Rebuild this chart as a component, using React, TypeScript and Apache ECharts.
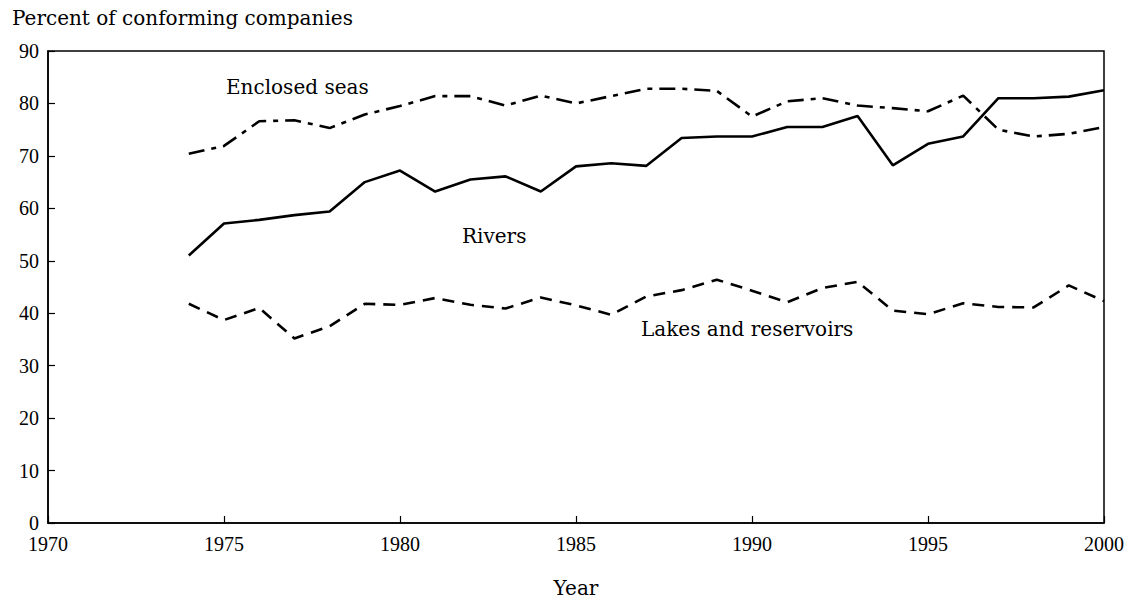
import React, { useEffect, useRef } from "react";
import * as echarts from "echarts";

const years = [1974, 1975, 1976, 1977, 1978, 1979, 1980, 1981, 1982, 1983, 1984, 1985, 1986, 1987, 1988, 1989, 1990, 1991, 1992, 1993, 1994, 1995, 1996, 1997, 1998, 1999, 2000];
const rivers = [51.0, 57.1, 57.8, 58.7, 59.4, 65.0, 67.2, 63.2, 65.5, 66.1, 63.2, 68.0, 68.6, 68.1, 73.4, 73.7, 73.7, 75.5, 75.5, 77.6, 68.2, 72.3, 73.7, 81.0, 81.0, 81.3, 82.5];
const enclosedSeas = [70.4, 71.9, 76.6, 76.8, 75.3, 77.9, 79.5, 81.4, 81.4, 79.6, 81.5, 80.0, 81.4, 82.8, 82.8, 82.4, 77.5, 80.4, 81.0, 79.6, 79.1, 78.5, 81.5, 75.0, 73.7, 74.2, 75.5];
const lakes = [41.8, 38.7, 41.0, 35.2, 37.5, 41.8, 41.6, 42.9, 41.6, 40.9, 43.0, 41.5, 39.7, 43.2, 44.4, 46.4, 44.3, 42.1, 44.8, 46.0, 40.5, 39.8, 41.9, 41.2, 41.1, 45.3, 42.3];

const titleText = "Percent of conforming companies";
const xName = "Year";
const seriesNames = ["Rivers", "Enclosed seas", "Lakes and reservoirs"];

const FONT = "'Liberation Serif', serif";
const WORD_FONT = "'DejaVu Serif', serif";

export default function App() {
  const ref = useRef<HTMLDivElement>(null);
  useEffect(() => {
    if (!ref.current) return;
    const chart = echarts.init(ref.current, null, { renderer: "svg" });
    const pair = (arr: number[]) => years.map((y, i) => [y, arr[i]]);
    chart.setOption({
      animation: false,
      backgroundColor: "#fff",
      textStyle: { fontFamily: FONT, color: "#000" },
      title: {
        text: titleText,
        left: 12,
        top: 8,
        padding: 0,
        textStyle: { fontFamily: WORD_FONT, fontSize: 20, fontWeight: "normal", color: "#000" },
      },
      grid: {
        left: 48,
        right: 28,
        top: 51,
        bottom: 78,
        outerBoundsMode: "none",
        containLabel: false,
        show: true,
        borderColor: "#000",
        borderWidth: 1.5,
        backgroundColor: "transparent",
      },
      xAxis: {
        type: "value",
        min: 1970,
        max: 2000,
        interval: 5,
        name: xName,
        nameLocation: "middle",
        nameGap: 55,
        nameTextStyle: { fontFamily: WORD_FONT, fontSize: 20, color: "#000" },
        splitLine: { show: false },
        axisLine: { show: true, lineStyle: { color: "#000", width: 1.5 } },
        axisTick: { show: true, inside: true, length: 7, lineStyle: { color: "#000", width: 1.2 } },
        axisLabel: { fontFamily: FONT, fontSize: 20, color: "#000", margin: 11, formatter: (v: number) => String(v) },
      },
      yAxis: {
        type: "value",
        min: 0,
        max: 90,
        interval: 10,
        splitLine: { show: false },
        axisLine: { show: true, lineStyle: { color: "#000", width: 1.5 } },
        axisTick: { show: true, inside: true, length: 7, lineStyle: { color: "#000", width: 1.2 } },
        axisLabel: { fontFamily: FONT, fontSize: 20, color: "#000", margin: 9 },
      },
      series: [
        {
          name: seriesNames[0],
          type: "line",
          data: pair(rivers),
          symbol: "none",
          lineStyle: { color: "#000", width: 2.6, type: "solid" },
        },
        {
          name: seriesNames[1],
          type: "line",
          data: pair(enclosedSeas),
          symbol: "none",
          lineStyle: { color: "#000", width: 2.6, type: [16, 7, 5, 7] },
        },
        {
          name: seriesNames[2],
          type: "line",
          data: pair(lakes),
          symbol: "none",
          lineStyle: { color: "#000", width: 2.6, type: [12, 8] },
        },
      ],
      graphic: [
        { type: "text", left: 226, top: 77, style: { text: seriesNames[1], fontFamily: WORD_FONT, fontSize: 20, fill: "#000" } },
        { type: "text", left: 462, top: 226, style: { text: seriesNames[0], fontFamily: WORD_FONT, fontSize: 20, fill: "#000" } },
        { type: "text", left: 641, top: 319, style: { text: seriesNames[2], fontFamily: WORD_FONT, fontSize: 20, fill: "#000" } },
      ],
    });
    return () => chart.dispose();
  }, []);
  return (
    <div
      ref={ref}
      style={{ position: "fixed", left: 0, top: 0, width: 1132, height: 601, background: "#fff" }}
    />
  );
}
